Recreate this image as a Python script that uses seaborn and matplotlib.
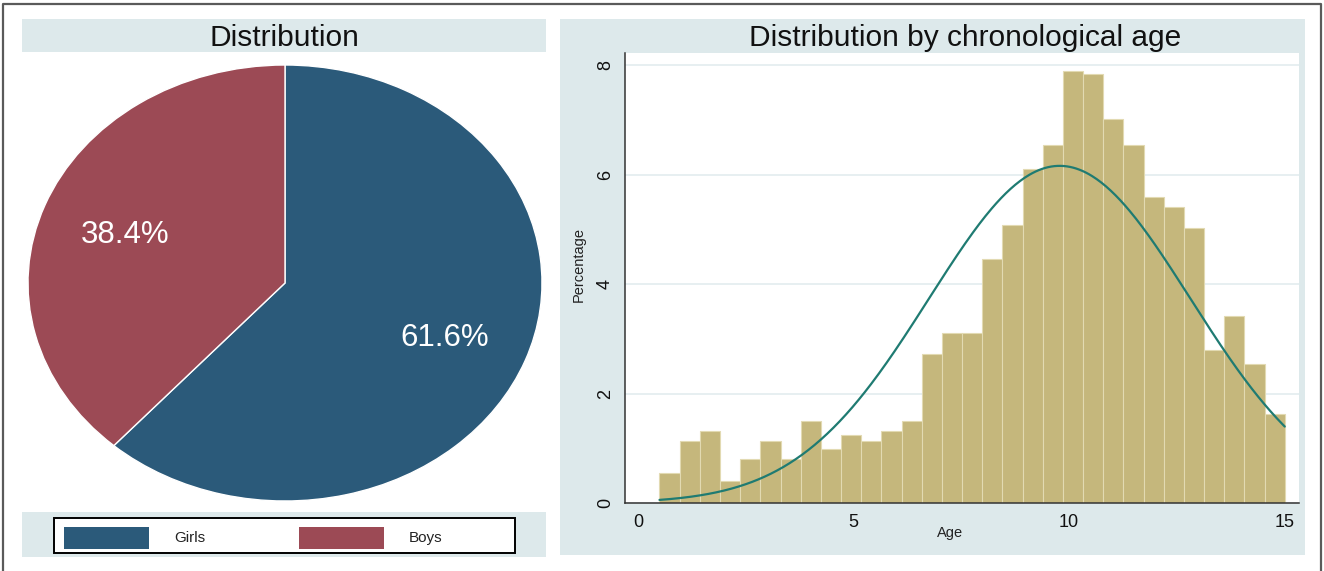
import numpy as np
import pandas as pd
import matplotlib
matplotlib.use("Agg")
import matplotlib.pyplot as plt
from matplotlib.patches import Rectangle
from matplotlib.lines import Line2D
import seaborn as sns

# ---- data -------------------------------------------------------------
sex_labels = ["Girls", "Boys"]
sex_share = [61.6, 38.4]
sex_colors = ["#2b5a7a", "#9c4a55"]

# age histogram: percentage of children in each age bin
age_min, age_max, n_bins = 0.5, 15.0, 31
age_pct = [0.55, 1.13, 1.31, 0.41, 0.80, 1.13, 0.80, 1.50, 0.99, 1.24,
           1.13, 1.31, 1.50, 2.72, 3.11, 3.11, 4.46, 5.08, 6.11, 6.54,
           7.90, 7.84, 7.01, 6.54, 5.59, 5.40, 5.03, 2.79, 3.42, 2.54, 1.63]
# fitted normal density overlay
age_mean, age_sd = 9.78, 3.03

x_ticks = [0, 5, 10, 15]
y_ticks = [0, 2, 4, 6, 8]

# ---- style ------------------------------------------------------------
sns.set_style("white")
plt.rcParams["font.family"] = ["Liberation Sans", "DejaVu Sans"]

W, H = 1324, 571
BAND = "#dde9eb"
fig = plt.figure(figsize=(W / 100, H / 100), dpi=100)


def box(x0, y0, x1, y1):
    """Pixel box (top-left origin) -> figure fraction [l, b, w, h]."""
    return [x0 / W, 1 - y1 / H, (x1 - x0) / W, (y1 - y0) / H]


def add_rect(x0, y0, x1, y1, z=-5, **kw):
    l, b, w, h = box(x0, y0, x1, y1)
    fig.add_artist(Rectangle((l, b), w, h, transform=fig.transFigure,
                             zorder=z, **kw))


# outer frame (left, top, right)
fig.add_artist(Line2D([3 / W, 3 / W, 1321 / W, 1321 / W],
                      [0, 1 - 4 / H, 1 - 4 / H, 0],
                      transform=fig.transFigure, color="#5a5a5a", lw=1.6))

# panel backgrounds
add_rect(22, 19, 546, 52, facecolor=BAND, edgecolor="none")     # left title band
add_rect(22, 512, 546, 557, facecolor=BAND, edgecolor="none")   # legend band
add_rect(560, 19, 1305, 555, facecolor=BAND, edgecolor="none")  # right panel

# titles
fig.text(284 / W, 1 - 46.5 / H, "Distribution", ha="center", va="baseline",
         fontsize=21.5, color="#111111")
fig.text(965 / W, 1 - 46.5 / H, "Distribution by chronological age",
         ha="center", va="baseline", fontsize=21.5, color="#111111")

# ---- pie --------------------------------------------------------------
ax_pie = fig.add_axes(box(28, 65, 542, 501))
_, _, pct_texts = ax_pie.pie(
    sex_share, colors=sex_colors, startangle=90, counterclock=False,
    autopct="%1.1f%%", pctdistance=0.667,
    wedgeprops=dict(edgecolor="white", linewidth=1.0),
    textprops=dict(color="white", fontsize=22.5))
for t in pct_texts:
    t.set_va("center_baseline")
ax_pie.set_aspect("auto")
ax_pie.set_xlim(-1, 1)
ax_pie.set_ylim(-1, 1)
ax_pie.axis("off")

# legend box with swatches
add_rect(54, 518, 515, 553, z=2, facecolor="white", edgecolor="black", lw=1.4)
swatch_x = [64, 299]
for lab, col, sx in zip(sex_labels, sex_colors, swatch_x):
    add_rect(sx, 527, sx + 85, 549, z=3, facecolor=col, edgecolor="none")
    fig.text((sx + 110) / W, 1 - 538 / H, lab, ha="left", va="center",
             fontsize=11, color="#222222", zorder=4)

# ---- histogram --------------------------------------------------------
ax = fig.add_axes(box(625, 53, 1299, 503))
ax.set_facecolor("white")
bin_w = (age_max - age_min) / n_bins
bin_centers = age_min + bin_w * (np.arange(n_bins) + 0.5)
hist_df = pd.DataFrame({"age": bin_centers, "pct": age_pct})
sns.histplot(data=hist_df, x="age", weights="pct", bins=n_bins,
             binrange=(age_min, age_max), stat="count",
             ax=ax, color="#c5b77c", alpha=1, edgecolor="#e2dab2",
             linewidth=0.8)

xs = np.linspace(age_min, age_max, 400)
ys = 100 * bin_w * np.exp(-0.5 * ((xs - age_mean) / age_sd) ** 2) / (age_sd * np.sqrt(2 * np.pi))
sns.lineplot(x=xs, y=ys, ax=ax, color="#1f7b72", linewidth=1.6)

ax.set_xlim(-0.3, 15.33)
ax.set_ylim(0, 8.22)
ax.set_xticks(x_ticks)
ax.set_yticks(y_ticks)
ax.yaxis.grid(True, color="#e3ecef", linewidth=1.2)
ax.xaxis.grid(False)
ax.set_axisbelow(True)
for s in ["top", "right"]:
    ax.spines[s].set_visible(False)
for s in ["left", "bottom"]:
    ax.spines[s].set_color("#333333")
    ax.spines[s].set_linewidth(1.1)
    ax.spines[s].set_zorder(5)
ax.tick_params(axis="both", length=5, width=1.0, color="#333333",
               labelsize=13, labelcolor="#111111", direction="out")
ax.tick_params(axis="x", pad=3)
ax.tick_params(axis="y", pad=3, labelrotation=90)
for t in ax.get_yticklabels():
    t.set_va("center")

ax.set_xlabel("Age", fontsize=10.5, color="#222222")
ax.xaxis.set_label_coords(0.482, -0.05)
ax.set_ylabel("Percentage", fontsize=10.5, color="#222222", va="center")
ax.yaxis.set_label_coords(-0.068, 0.529)

fig.savefig("out.png", dpi=100)
